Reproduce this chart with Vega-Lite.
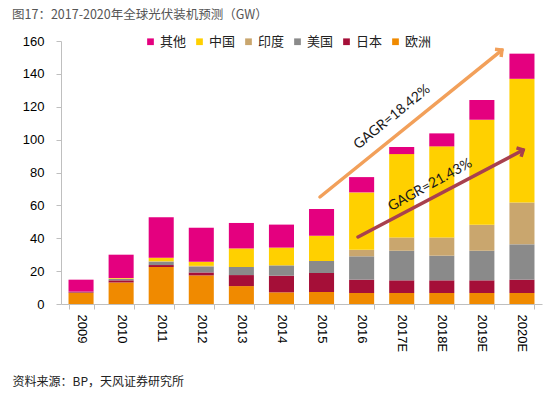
{
  "$schema": "https://vega.github.io/schema/vega-lite/v6.json",
  "width": 481,
  "height": 263,
  "autosize": {"type": "none"},
  "padding": {"left": 61, "top": 41, "right": 15, "bottom": 91},
  "background": "white",
  "title": {
    "text": "图17：2017-2020年全球光伏装机预测（GW）",
    "anchor": "start",
    "frame": "group",
    "dx": -49,
    "offset": 14,
    "fontSize": 12.5,
    "fontWeight": "normal",
    "font": "Noto Sans CJK SC",
    "color": "#555555"
  },
  "config": {
    "view": {"stroke": null},
    "axis": {"grid": false}
  },
  "layer": [
    {
      "data": {
        "values": [
          {"year": "2009", "region": "欧洲", "ord": 1, "v": 6.8},
          {"year": "2009", "region": "日本", "ord": 2, "v": 0.4},
          {"year": "2009", "region": "美国", "ord": 3, "v": 0.3},
          {"year": "2009", "region": "印度", "ord": 4, "v": 0},
          {"year": "2009", "region": "中国", "ord": 5, "v": 0},
          {"year": "2009", "region": "其他", "ord": 6, "v": 7.3},
          {"year": "2010", "region": "欧洲", "ord": 1, "v": 13.1},
          {"year": "2010", "region": "日本", "ord": 2, "v": 1.3},
          {"year": "2010", "region": "美国", "ord": 3, "v": 0.8},
          {"year": "2010", "region": "印度", "ord": 4, "v": 0.2},
          {"year": "2010", "region": "中国", "ord": 5, "v": 0.4},
          {"year": "2010", "region": "其他", "ord": 6, "v": 14.2},
          {"year": "2011", "region": "欧洲", "ord": 1, "v": 22.5},
          {"year": "2011", "region": "日本", "ord": 2, "v": 1.2},
          {"year": "2011", "region": "美国", "ord": 3, "v": 2.0},
          {"year": "2011", "region": "印度", "ord": 4, "v": 0.3},
          {"year": "2011", "region": "中国", "ord": 5, "v": 2.2},
          {"year": "2011", "region": "其他", "ord": 6, "v": 24.5},
          {"year": "2012", "region": "欧洲", "ord": 1, "v": 17.4},
          {"year": "2012", "region": "日本", "ord": 2, "v": 1.8},
          {"year": "2012", "region": "美国", "ord": 3, "v": 3.5},
          {"year": "2012", "region": "印度", "ord": 4, "v": 0.5},
          {"year": "2012", "region": "中国", "ord": 5, "v": 2.5},
          {"year": "2012", "region": "其他", "ord": 6, "v": 20.7},
          {"year": "2013", "region": "欧洲", "ord": 1, "v": 10.9},
          {"year": "2013", "region": "日本", "ord": 2, "v": 6.7},
          {"year": "2013", "region": "美国", "ord": 3, "v": 4.9},
          {"year": "2013", "region": "印度", "ord": 4, "v": 0},
          {"year": "2013", "region": "中国", "ord": 5, "v": 11.3},
          {"year": "2013", "region": "其他", "ord": 6, "v": 15.5},
          {"year": "2014", "region": "欧洲", "ord": 1, "v": 7.1},
          {"year": "2014", "region": "日本", "ord": 2, "v": 10.1},
          {"year": "2014", "region": "美国", "ord": 3, "v": 6.3},
          {"year": "2014", "region": "印度", "ord": 4, "v": 0},
          {"year": "2014", "region": "中国", "ord": 5, "v": 10.8},
          {"year": "2014", "region": "其他", "ord": 6, "v": 14.0},
          {"year": "2015", "region": "欧洲", "ord": 1, "v": 7.3},
          {"year": "2015", "region": "日本", "ord": 2, "v": 11.6},
          {"year": "2015", "region": "美国", "ord": 3, "v": 7.3},
          {"year": "2015", "region": "印度", "ord": 4, "v": 0},
          {"year": "2015", "region": "中国", "ord": 5, "v": 15.3},
          {"year": "2015", "region": "其他", "ord": 6, "v": 16.3},
          {"year": "2016", "region": "欧洲", "ord": 1, "v": 6.7},
          {"year": "2016", "region": "日本", "ord": 2, "v": 8.1},
          {"year": "2016", "region": "美国", "ord": 3, "v": 14.2},
          {"year": "2016", "region": "印度", "ord": 4, "v": 4.0},
          {"year": "2016", "region": "中国", "ord": 5, "v": 34.9},
          {"year": "2016", "region": "其他", "ord": 6, "v": 9.3},
          {"year": "2017E", "region": "欧洲", "ord": 1, "v": 6.7},
          {"year": "2017E", "region": "日本", "ord": 2, "v": 7.7},
          {"year": "2017E", "region": "美国", "ord": 3, "v": 18.0},
          {"year": "2017E", "region": "印度", "ord": 4, "v": 8.1},
          {"year": "2017E", "region": "中国", "ord": 5, "v": 50.7},
          {"year": "2017E", "region": "其他", "ord": 6, "v": 4.3},
          {"year": "2018E", "region": "欧洲", "ord": 1, "v": 6.7},
          {"year": "2018E", "region": "日本", "ord": 2, "v": 7.7},
          {"year": "2018E", "region": "美国", "ord": 3, "v": 15.0},
          {"year": "2018E", "region": "印度", "ord": 4, "v": 11.1},
          {"year": "2018E", "region": "中国", "ord": 5, "v": 55.4},
          {"year": "2018E", "region": "其他", "ord": 6, "v": 7.9},
          {"year": "2019E", "region": "欧洲", "ord": 1, "v": 6.7},
          {"year": "2019E", "region": "日本", "ord": 2, "v": 7.7},
          {"year": "2019E", "region": "美国", "ord": 3, "v": 18.0},
          {"year": "2019E", "region": "印度", "ord": 4, "v": 15.8},
          {"year": "2019E", "region": "中国", "ord": 5, "v": 63.9},
          {"year": "2019E", "region": "其他", "ord": 6, "v": 12.0},
          {"year": "2020E", "region": "欧洲", "ord": 1, "v": 6.7},
          {"year": "2020E", "region": "日本", "ord": 2, "v": 8.1},
          {"year": "2020E", "region": "美国", "ord": 3, "v": 21.5},
          {"year": "2020E", "region": "印度", "ord": 4, "v": 25.5},
          {"year": "2020E", "region": "中国", "ord": 5, "v": 75.2},
          {"year": "2020E", "region": "其他", "ord": 6, "v": 15.3}
        ]
      },
      "mark": {"type": "bar"},
      "encoding": {
        "x": {
          "field": "year",
          "type": "nominal",
          "sort": null,
          "scale": {"paddingInner": 0.375, "paddingOuter": 0.1875},
          "axis": {
            "title": "资料来源：BP，天风证券研究所",
            "titleAnchor": "start",
            "titleAlign": "left",
            "titleX": -49,
            "titleY": 77,
            "titleBaseline": "middle",
            "titleFont": "Noto Sans CJK SC",
            "titleFontSize": 12,
            "titleFontWeight": "normal",
            "titleColor": "#222222",
            "labelAngle": 90,
            "labelAlign": "left",
            "labelBaseline": "middle",
            "labelFont": "Liberation Sans",
            "labelFontSize": 13,
            "labelColor": "#000000",
            "labelPadding": 5,
            "tickBand": "extent",
            "tickSize": 5,
            "tickColor": "#BFBFBF",
            "domainColor": "#BFBFBF"
          }
        },
        "y": {
          "field": "v",
          "type": "quantitative",
          "stack": "zero",
          "scale": {"domain": [0, 160], "nice": false},
          "axis": {
            "title": null,
            "values": [0, 20, 40, 60, 80, 100, 120, 140, 160],
            "labelOverlap": false,
            "labelFont": "Liberation Sans",
            "labelFontSize": 13,
            "labelColor": "#000000",
            "labelPadding": 12,
            "tickSize": 5,
            "tickColor": "#BFBFBF",
            "domainColor": "#BFBFBF"
          }
        },
        "color": {
          "field": "region",
          "type": "nominal",
          "scale": {
            "domain": ["其他", "中国", "印度", "美国", "日本", "欧洲"],
            "range": ["#E4007F", "#FFD000", "#C9A66E", "#8A8A8A", "#A50F38", "#F08A00"]
          },
          "legend": {
            "title": null,
            "orient": "none",
            "direction": "horizontal",
            "legendX": 83,
            "legendY": -6,
            "symbolType": "square",
            "symbolSize": 45,
            "symbolStrokeWidth": 0,
            "labelFont": "Noto Sans CJK SC",
            "labelFontSize": 13,
            "labelColor": "#222222",
            "labelOffset": 3,
            "columnPadding": 6
          }
        },
        "order": {"field": "ord", "type": "quantitative", "sort": "ascending"}
      }
    },
    {
      "data": {
        "values": [
          {"pos": 6.46, "val": 65.1},
          {"pos": 11.0, "val": 154.5}
        ]
      },
      "mark": {"type": "line", "color": "#F2A05A", "strokeWidth": 3.5, "strokeCap": "round"},
      "encoding": {
        "x": {"field": "pos", "type": "quantitative", "scale": {"domain": [0, 12], "nice": false, "zero": false}, "axis": null},
        "y": {"field": "val", "type": "quantitative", "axis": null}
      }
    },
    {
      "data": {"values": [{"pos": 11.0, "val": 154.5}]},
      "mark": {"type": "point", "shape": "M-0.9,0.9L0,0L0.9,0.9", "filled": false, "color": "#F2A05A", "strokeWidth": 3.5, "size": 120, "angle": 51.5, "opacity": 1},
      "encoding": {
        "x": {"field": "pos", "type": "quantitative", "scale": {"domain": [0, 12], "nice": false, "zero": false}, "axis": null},
        "y": {"field": "val", "type": "quantitative", "axis": null}
      }
    },
    {
      "data": {
        "values": [
          {"pos": 7.41, "val": 40.8},
          {"pos": 11.53, "val": 93.7}
        ]
      },
      "mark": {"type": "line", "color": "#A8404E", "strokeWidth": 3.5, "strokeCap": "round"},
      "encoding": {
        "x": {"field": "pos", "type": "quantitative", "scale": {"domain": [0, 12], "nice": false, "zero": false}, "axis": null},
        "y": {"field": "val", "type": "quantitative", "axis": null}
      }
    },
    {
      "data": {"values": [{"pos": 11.53, "val": 93.7}]},
      "mark": {"type": "point", "shape": "M-0.9,0.9L0,0L0.9,0.9", "filled": false, "color": "#A8404E", "strokeWidth": 3.5, "size": 120, "angle": 62, "opacity": 1},
      "encoding": {
        "x": {"field": "pos", "type": "quantitative", "scale": {"domain": [0, 12], "nice": false, "zero": false}, "axis": null},
        "y": {"field": "val", "type": "quantitative", "axis": null}
      }
    },
    {
      "data": {"values": [{"pos": 8.26, "val": 113.7, "label": "GAGR=18.42%"}]},
      "mark": {"type": "text", "font": "Lato", "fontSize": 14, "color": "#1A1A1A", "angle": -39, "align": "center", "baseline": "middle"},
      "encoding": {
        "x": {"field": "pos", "type": "quantitative", "scale": {"domain": [0, 12], "nice": false, "zero": false}, "axis": null},
        "y": {"field": "val", "type": "quantitative", "axis": null},
        "text": {"field": "label"}
      }
    },
    {
      "data": {"values": [{"pos": 9.21, "val": 72.4, "label": "GAGR=21.43%"}]},
      "mark": {"type": "text", "font": "Lato", "fontSize": 14, "color": "#1A1A1A", "angle": -29, "align": "center", "baseline": "middle"},
      "encoding": {
        "x": {"field": "pos", "type": "quantitative", "scale": {"domain": [0, 12], "nice": false, "zero": false}, "axis": null},
        "y": {"field": "val", "type": "quantitative", "axis": null},
        "text": {"field": "label"}
      }
    }
  ],
  "resolve": {"scale": {"x": "independent"}, "axis": {"y": "independent"}}
}
